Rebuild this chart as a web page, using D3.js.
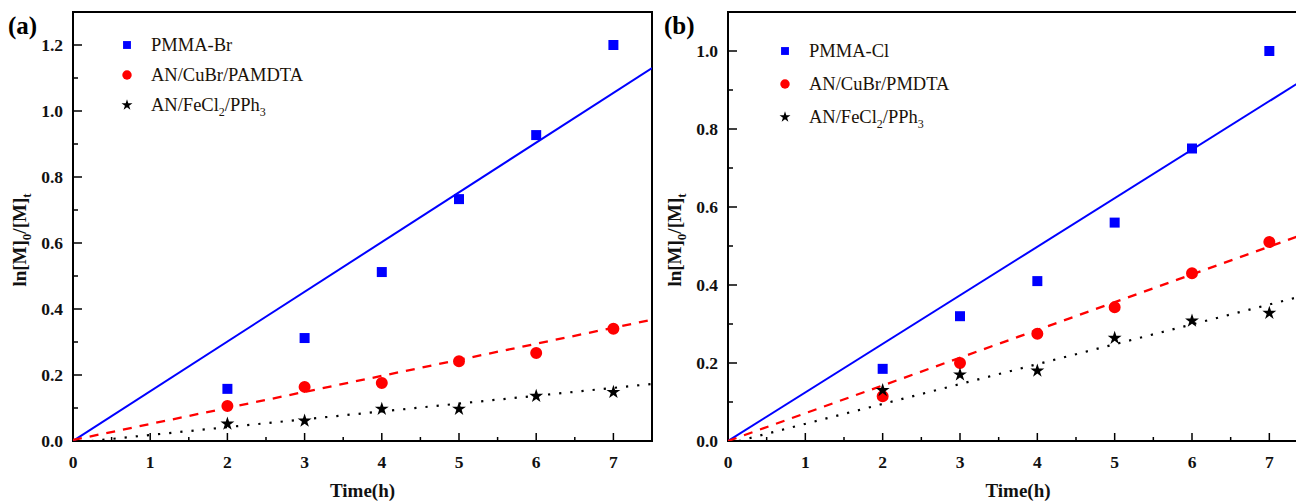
<!DOCTYPE html>
<html>
<head>
<meta charset="utf-8">
<script src="https://cdn.jsdelivr.net/npm/d3@7"></script>
<style>
  body { margin: 0; background: #fff; }
  svg { display: block; }
  .tick-label { font-family: "Liberation Serif", "Times New Roman", serif; font-weight: bold; font-size: 17.5px; fill: #111; }
  .axis-title { font-family: "Liberation Serif", "Times New Roman", serif; font-weight: bold; font-size: 19px; fill: #111; }
  .legend-text { font-family: "Liberation Serif", "Times New Roman", serif; font-size: 18.5px; fill: #1a1208; }
  .panel-label { font-family: "Liberation Serif", "Times New Roman", serif; font-weight: bold; font-size: 25px; fill: #000; }
</style>
</head>
<body>
<svg id="chart" width="1296" height="501"></svg>
<script>
// sampling times (h)
var times = [2, 3, 4, 5, 6, 7]

// panel (a)
var pmmaBr = [0.158, 0.312, 0.512, 0.733, 0.927, 1.2]
var cuBrA = [0.106, 0.164, 0.176, 0.242, 0.267, 0.34]
var feCl2A = [0.052, 0.061, 0.097, 0.097, 0.136, 0.148]
// linear fits [slope, intercept]
var fitA = [[0.1507, 0], [0.0486, 0.003], [0.0238, -0.0056]]

// panel (b)
var pmmaCl = [0.185, 0.32, 0.41, 0.56, 0.75, 1.0]
var cuBrB = [0.115, 0.2, 0.275, 0.343, 0.43, 0.51]
var feCl2B = [0.13, 0.17, 0.18, 0.264, 0.308, 0.328]
var fitB = [[0.1245, 0], [0.0712, 0], [0.051, -0.007]]

var xTicks = [0, 1, 2, 3, 4, 5, 6, 7]
var yTicksA = [0, 0.2, 0.4, 0.6, 0.8, 1.0, 1.2]
var yTicksB = [0, 0.2, 0.4, 0.6, 0.8, 1.0]

// legend entries, parts flagged true are subscripts
var legendA = [
  [["PMMA-Br", false]],
  [["AN/CuBr/PAMDTA", false]],
  [["AN/FeCl", false], ["2", true], ["/PPh", false], ["3", true]]
]
var legendB = [
  [["PMMA-Cl", false]],
  [["AN/CuBr/PMDTA", false]],
  [["AN/FeCl", false], ["2", true], ["/PPh", false], ["3", true]]
]

var svg = d3.select("#chart")

function addParts(text, parts, subSize) {
  var shifted = false
  parts.forEach(function (p) {
    var t = text.append("tspan").text(p[0])
    if (p[1]) {
      t.attr("dy", 5).style("font-size", subSize)
      shifted = true
    } else if (shifted) {
      t.attr("dy", -5)
      shifted = false
    }
  })
}

function createPanel(options) {
  var m = options.margin
  var w = options.width
  var h = options.height
  var g = svg.append("g").attr("transform", "translate(" + m.left + "," + m.top + ")")

  var x = d3.scaleLinear().domain([0, 7.5]).range([0, w])
  var y = d3.scaleLinear().domain([0, options.yMax]).range([h, 0])

  var clipId = "clip-" + options.name
  g.append("clipPath").attr("id", clipId)
    .append("rect").attr("width", w).attr("height", h)

  // minor ticks
  var xMinor = d3.range(0.5, 7.5, 1)
  var yMinor = d3.range(0.1, options.yMax, 0.2)
  g.selectAll(".xminor").data(xMinor).enter().append("line")
    .attr("x1", d => x(d)).attr("x2", d => x(d))
    .attr("y1", h).attr("y2", h - 4)
    .attr("stroke", "#000").attr("stroke-width", 1.5)
  g.selectAll(".yminor").data(yMinor).enter().append("line")
    .attr("x1", 0).attr("x2", 5)
    .attr("y1", d => y(d)).attr("y2", d => y(d))
    .attr("stroke", "#000").attr("stroke-width", 1.5)

  // major ticks + labels
  g.selectAll(".xmajor").data(xTicks).enter().append("line")
    .attr("x1", d => x(d)).attr("x2", d => x(d))
    .attr("y1", h).attr("y2", h - 8)
    .attr("stroke", "#000").attr("stroke-width", 1.5)
  g.selectAll(".xlabel").data(xTicks).enter().append("text")
    .attr("class", "tick-label")
    .attr("x", d => x(d)).attr("y", h + 27)
    .attr("text-anchor", "middle")
    .text(d => d)
  g.selectAll(".ymajor").data(options.yTicks).enter().append("line")
    .attr("x1", 0).attr("x2", 9)
    .attr("y1", d => y(d)).attr("y2", d => y(d))
    .attr("stroke", "#000").attr("stroke-width", 1.5)
  g.selectAll(".ylabel").data(options.yTicks).enter().append("text")
    .attr("class", "tick-label")
    .attr("x", -10).attr("y", d => y(d)).attr("dy", "0.35em")
    .attr("text-anchor", "end")
    .text(d => d3.format(".1f")(d))

  // frame
  g.append("rect").attr("width", w).attr("height", h)
    .attr("fill", "none").attr("stroke", "#000").attr("stroke-width", 2)

  // fitted lines
  var styles = [
    { color: "#0000ff", dash: null, width: 2 },
    { color: "#ff0000", dash: "9,8", width: 2.3 },
    { color: "#000000", dash: "2.2,9", width: 2.2 }
  ]
  var line = d3.line().x(d => x(d[0])).y(d => y(d[1]))
  var lines = g.append("g").attr("clip-path", "url(#" + clipId + ")")
  options.fits.forEach(function (f, i) {
    var x0 = f[1] < 0 ? -f[1] / f[0] : 0
    var pts = [[x0, f[0] * x0 + f[1]], [7.5, f[0] * 7.5 + f[1]]]
    lines.append("path")
      .attr("d", line(pts))
      .attr("fill", "none")
      .attr("stroke", styles[i].color)
      .attr("stroke-width", styles[i].width)
      .attr("stroke-dasharray", styles[i].dash)
  })

  // markers
  var symbols = [
    { type: d3.symbolSquare, size: 100, color: "#0000ff" },
    { type: d3.symbolCircle, size: 113, color: "#ff0000" },
    { type: d3.symbolStar, size: 60, color: "#000000" }
  ]
  options.series.forEach(function (vals, i) {
    var s = symbols[i]
    g.selectAll(".pt" + i).data(vals).enter().append("path")
      .attr("d", d3.symbol().type(s.type).size(s.size))
      .attr("transform", (d, j) => "translate(" + x(times[j]) + "," + y(d) + ")")
      .attr("fill", s.color)
  })

  // legend
  options.legend.forEach(function (parts, i) {
    var s = symbols[i]
    var ly = options.legendY + i * options.legendStep
    g.append("path")
      .attr("d", d3.symbol().type(s.type).size(s.size * 0.62))
      .attr("transform", "translate(" + options.legendX + "," + ly + ")")
      .attr("fill", s.color)
    var t = g.append("text").attr("class", "legend-text")
      .attr("x", options.legendX + 24).attr("y", ly + 6)
    addParts(t, parts, "12px")
  })

  // axis titles
  g.append("text").attr("class", "axis-title")
    .attr("x", w / 2).attr("y", h + 56)
    .attr("text-anchor", "middle")
    .text("Time(h)")
  var yt = g.append("text").attr("class", "axis-title")
    .attr("transform", "translate(" + options.yTitleX + "," + options.yTitleY + ") rotate(-90)")
    .attr("text-anchor", "middle")
  addParts(yt, [["ln[M]", false], ["0", true], ["/[M]", false], ["t", true]], "13px")

  // panel label
  svg.append("text").attr("class", "panel-label")
    .attr("x", options.labelX).attr("y", 34)
    .text(options.label)
}

createPanel({
  name: "a", label: "(a)", labelX: 8,
  margin: { left: 73, top: 12 }, width: 579, height: 429,
  yMax: 1.3, yTicks: yTicksA,
  series: [pmmaBr, cuBrA, feCl2A], fits: fitA,
  legend: legendA, legendX: 54, legendY: 33, legendStep: 30,
  yTitleX: -47, yTitleY: 228
})

createPanel({
  name: "b", label: "(b)", labelX: 664,
  margin: { left: 728, top: 12 }, width: 580, height: 429,
  yMax: 1.1, yTicks: yTicksB,
  series: [pmmaCl, cuBrB, feCl2B], fits: fitB,
  legend: legendB, legendX: 57, legendY: 39, legendStep: 33,
  yTitleX: -47, yTitleY: 228
})
</script>
</body>
</html>
